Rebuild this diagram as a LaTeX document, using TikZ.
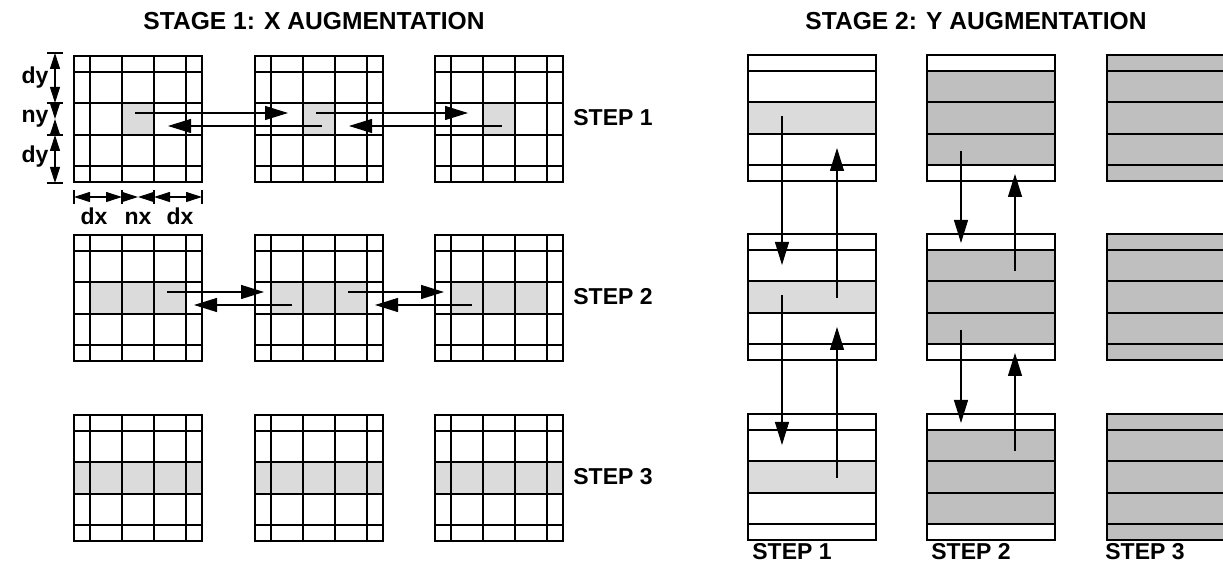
\documentclass[tikz,border=0pt]{standalone}
\usepackage{fontspec}
\setmainfont{Liberation Sans}
\usetikzlibrary{positioning, calc, arrows.meta}

\begin{document}
\begin{tikzpicture}[x = 0.5pt, y = -0.5pt,
    every node/.style = { inner sep = 0pt, font = \bfseries\fontsize{11.5}{13}\selectfont },
    title/.style = { font = \bfseries\fontsize{12.3}{14}\selectfont },
    steplabel/.style = { anchor = west },
    dimlabel/.style = { anchor = base },
    cellline/.style = { line width = 0.55pt },
    thickline/.style = { line width = 1.1pt },
    light/.style = { fill = gray!28 },
    dark/.style = { fill = gray!50 },
    flow/.style = { line width = 0.55pt, -{Triangle[length = 11.5pt, width = 7pt]} },
    dimline/.style = { line width = 0.55pt, {Triangle[length = 8pt, width = 5pt]}-{Triangle[length = 8pt, width = 5pt]} },
    dimhalf/.style = { line width = 0.55pt, -{Triangle[length = 8pt, width = 5pt]} }]

  \useasboundingbox (0,0) rectangle (1223,582);
  \clip (0,0) rectangle (1223,582);

  \node[title] (stagex) at (314,21) {STAGE 1: X AUGMENTATION};
  \node[title] (stagey) at (976,21) {STAGE 2: Y AUGMENTATION};

  \foreach \row/\top/\from/\to in {1/56/48/80, 2/235/16/112, 3/415/0/128} {
    \foreach \col/\left in {1/74, 2/255, 3/435} {
      \begin{scope}[shift = {(\left,\top)}]
        \coordinate (xg\row\col) at (0,0);
        \fill[light] (\from,47) rectangle (\to,79);
        \draw[cellline] (0,0) rectangle (128,126);
        \foreach \v in {16,48,80,112} \draw[cellline] (\v,0) -- (\v,126);
        \foreach \h in {16,47,79,110} \draw[cellline] (0,\h) -- (128,\h);
        \draw[thickline] (\from,47) rectangle (\to,79);
      \end{scope}
    }
    \node[steplabel] (xstep\row) at ($(xg\row3)+(138,62)$) {STEP \row};
  }

  \foreach \col/\left/\from/\to/\tone/\heavy in {1/748/47/79/light/{47,79}, 2/927/16/110/dark/{16,47,79,110}, 3/1107/0/126/dark/{0,16,47,79,110,126}} {
    \foreach \row/\top in {1/55, 2/234, 3/414} {
      \begin{scope}[shift = {(\left,\top)}]
        \coordinate (yg\col\row) at (0,0);
        \fill[\tone] (0,\from) rectangle (128,\to);
        \draw[cellline] (0,0) rectangle (128,126);
        \foreach \h in {16,47,79,110} \draw[cellline] (0,\h) -- (128,\h);
        \foreach \h in \heavy \draw[thickline] (0,\h) -- (128,\h);
        \draw[thickline] (0,\from) -- (0,\to) (128,\from) -- (128,\to);
      \end{scope}
    }
  }
  \foreach \col/\left in {1/752, 2/931, 3/1105}
    \node[steplabel] (ystep\col) at (\left,552) {STEP \col};

  \foreach \row/\a/\b/\c/\d in {1/61/33/67/94, 2/93/9/37/120} {
    \foreach \g/\h in {1/2, 2/3} {
      \draw[flow] ($(xg\row\g)+(\a,57)$) -- ($(xg\row\h)+(\b,57)$);
      \draw[flow] ($(xg\row\h)+(\c,70)$) -- ($(xg\row\g)+(\d,70)$);
    }
  }

  \foreach \g/\h in {1/2, 2/3} {
    \draw[flow] ($(yg1\g)+(34,61)$) -- ($(yg1\h)+(34,31)$);
    \draw[flow] ($(yg1\h)+(89,64)$) -- ($(yg1\g)+(89,93)$);
    \draw[flow] ($(yg2\g)+(34,96)$) -- ($(yg2\h)+(34,9)$);
    \draw[flow] ($(yg2\h)+(88,37)$) -- ($(yg2\g)+(88,119)$);
  }

  \foreach \t in {53,103,135,183} \draw[cellline] (47,\t) -- (63,\t);
  \draw[dimline] (55,53) -- (55,103);
  \draw[dimhalf] (55,103) -- (55,119);
  \draw[dimhalf] (55,135) -- (55,119);
  \draw[dimline] (55,135) -- (55,183);
  \foreach \t in {74,122,154,202} \draw[cellline] (\t,190) -- (\t,204);
  \draw[dimline] (74,197) -- (122,197);
  \draw[dimhalf] (122,197) -- (138,197);
  \draw[dimhalf] (154,197) -- (138,197);
  \draw[dimline] (154,197) -- (202,197);

  \node[dimlabel] (dytop) at (35,84) {dy};
  \node[dimlabel] (ny) at (35,123) {ny};
  \node[dimlabel] (dybot) at (35,163) {dy};
  \node[dimlabel] (dxleft) at (94,225) {dx};
  \node[dimlabel] (nx) at (138,225) {nx};
  \node[dimlabel] (dxright) at (180,225) {dx};

\end{tikzpicture}
\end{document}
